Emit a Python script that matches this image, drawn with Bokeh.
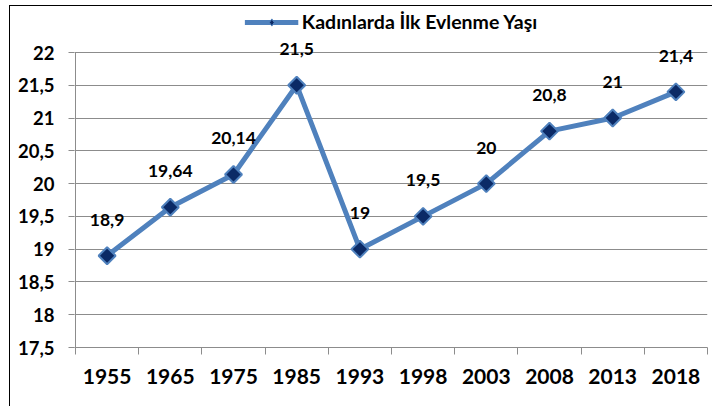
import math
from bokeh.plotting import figure
from bokeh.models import FixedTicker, Legend, LegendItem, ColumnDataSource, LabelSet
from bokeh.core.properties import value
from bokeh.embed import file_html
from bokeh.resources import INLINE

years = ["1955", "1965", "1975", "1985", "1993", "1998", "2003", "2008", "2013", "2018"]
values = [18.9, 19.64, 20.14, 21.5, 19.0, 19.5, 20.0, 20.8, 21.0, 21.4]
value_labels = ["18,9", "19,64", "20,14", "21,5", "19", "19,5", "20", "20,8", "21", "21,4"]
y_ticks = [17.5, 18, 18.5, 19, 19.5, 20, 20.5, 21, 21.5, 22]
y_tick_labels = ["17,5", "18", "18,5", "19", "19,5", "20", "20,5", "21", "21,5", "22"]
series_name = "Kadınlarda İlk Evlenme Yaşı"

FONT = "Lato"
BLUE = "#4F81BD"
NAVY = "#0B2A66"
GRID = "#8C8C8C"

n = len(years)
xs = [i + 0.5 for i in range(n)]
src = ColumnDataSource(dict(x=xs, y=values, lab=value_labels))

# layout (pixels)
W, H = 703, 401
ML, MR, MT, MB = 64, 6, 0, 60
frame_h = H - MT - MB
frame_w = W - ML - MR
plot_h = 295.0  # pixel height of the 17.5..22 band
y0, y1 = y_ticks[0], y_ticks[-1]
y_top = y0 + (y1 - y0) * frame_h / plot_h
x_start = -n / (frame_w - 1)

p = figure(width=W, height=H, output_backend="svg", toolbar_location=None,
           x_range=(x_start, n), y_range=(y0, y_top),
           min_border_left=ML, min_border_right=MR, min_border_top=MT, min_border_bottom=MB)
p.styles = {"position": "relative", "left": "10px", "top": "6px",
            "box-shadow": "-1px -1px 0px 0px black"}
p.outline_line_color = None
p.background_fill_color = "white"
p.border_fill_color = "white"

# y axis line (stops at the top gridline)
p.segment(x0=[0], y0=[y0], x1=[0], y1=[y1], line_color=GRID, line_width=1)

line = p.line("x", "y", source=src, line_color=BLUE, line_width=5)
pts = p.scatter("x", "y", source=src, marker="square", size=12, angle=math.pi / 4,
                fill_color=NAVY, line_color=BLUE, line_width=2)
# small diamond used only for the legend swatch
legend_pts = p.scatter("x", "y", source=src, marker="diamond", size=12,
                       fill_color=NAVY, line_color=BLUE, line_width=1, visible=False)

labels = LabelSet(x="x", y="y", text="lab", source=src, y_offset=36,
                  text_align="center", text_baseline="middle",
                  text_font=value(FONT), text_font_style="bold", text_font_size="17.5px",
                  text_color="black")
p.add_layout(labels)

# x axis: labels at category centres, tick marks at category boundaries
p.xaxis.ticker = FixedTicker(ticks=xs, minor_ticks=list(range(n + 1)))
p.xaxis.major_label_overrides = {x: y for x, y in zip(xs, years)}
p.xaxis.major_tick_out = 0
p.xaxis.major_tick_in = 0
p.xaxis.minor_tick_out = 7
p.xaxis.minor_tick_in = 0
p.xaxis.minor_tick_line_color = GRID
p.xaxis.axis_line_color = GRID
p.xaxis.major_label_standoff = 14
p.xaxis.major_label_text_font = FONT
p.xaxis.major_label_text_font_style = "bold"
p.xaxis.major_label_text_font_size = "21px"
p.xaxis.major_label_text_color = "black"

p.yaxis.ticker = FixedTicker(ticks=y_ticks, minor_ticks=[])
p.yaxis.major_label_overrides = {t: l for t, l in zip(y_ticks, y_tick_labels)}
p.yaxis.major_tick_out = 6
p.yaxis.major_tick_in = 0
p.yaxis.major_tick_line_color = GRID
p.yaxis.axis_line_color = None
p.yaxis.major_label_standoff = 14
p.yaxis.major_label_text_font = FONT
p.yaxis.major_label_text_font_style = "bold"
p.yaxis.major_label_text_font_size = "18.5px"
p.yaxis.major_label_text_color = "black"

p.xgrid.grid_line_color = None
p.ygrid.ticker = FixedTicker(ticks=y_ticks)
p.ygrid.grid_line_color = GRID
p.ygrid.grid_line_width = 1

legend = Legend(items=[LegendItem(label=series_name, renderers=[line, legend_pts])],
                orientation="horizontal", location="top_center",
                glyph_width=54, glyph_height=18,
                label_text_font=FONT, label_text_font_style="bold",
                label_text_font_size="19.5px", label_text_color="black",
                border_line_color=None, background_fill_alpha=0,
                padding=3, margin=4, label_standoff=4)
p.add_layout(legend)

open("out.html", "w").write(file_html(p, INLINE))
